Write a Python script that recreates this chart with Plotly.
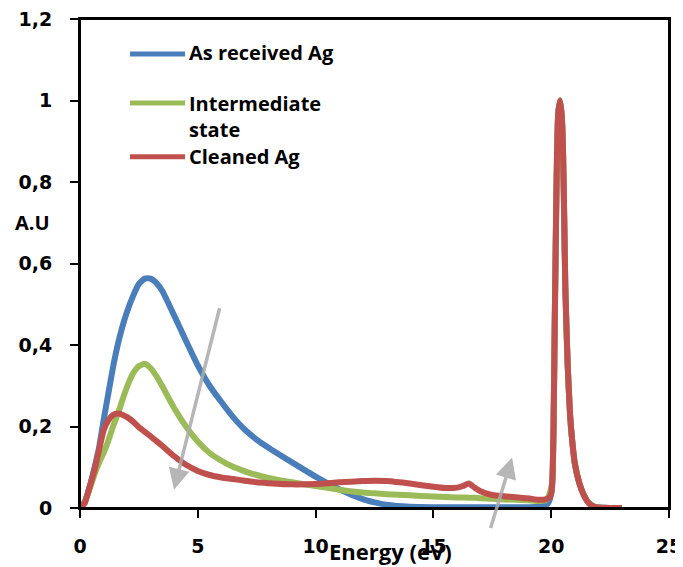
import plotly.graph_objects as go

energy = [0, 0.2, 0.4, 0.6, 0.8, 1.0, 1.2, 1.4, 1.6, 1.8,
          2.0, 2.25, 2.5, 2.75, 3.0, 3.25, 3.5,
          4.0, 4.5, 5.0, 5.5, 6.0, 6.5, 7.0, 7.5, 8.0,
          9.0, 10.0, 11.0, 12.0, 12.5, 13.0, 14.0, 15.0, 15.5, 16.0,
          16.25, 16.5, 16.75, 17.0, 17.5, 18.0, 19.0, 19.5, 19.8, 19.9,
          20.0, 20.05, 20.1, 20.15, 20.2, 20.25, 20.3, 20.38, 20.45, 20.5,
          20.55, 20.6, 20.7, 20.8, 20.9, 21.0, 21.2, 21.4, 21.6, 21.8,
          22.0, 22.5, 23.0]

as_received = [0, 0.015, 0.05, 0.095, 0.145, 0.215, 0.28, 0.345, 0.40, 0.445,
               0.482, 0.52, 0.55, 0.563, 0.563, 0.552, 0.532,
               0.472, 0.41, 0.35, 0.30, 0.26, 0.223, 0.192, 0.168, 0.148,
               0.112, 0.077, 0.046, 0.022, 0.014, 0.008, 0.003, 0.002, 0.002, 0.002,
               0.002, 0.002, 0.002, 0.002, 0.002, 0.002, 0.002, 0.003, 0.008, 0.015,
               0.035, 0.06, 0.2, 0.45, 0.68, 0.88, 0.97, 1.0, 0.96, 0.88,
               0.72, 0.54, 0.35, 0.23, 0.16, 0.11, 0.06, 0.03, 0.012, 0.004,
               0.001, 0, 0]

intermediate = [0, 0.015, 0.045, 0.08, 0.11, 0.135, 0.165, 0.2, 0.23, 0.265,
                0.298, 0.33, 0.348, 0.354, 0.343, 0.323, 0.298,
                0.245, 0.2, 0.163, 0.135, 0.116, 0.101, 0.09, 0.081, 0.074,
                0.063, 0.054, 0.045, 0.038, 0.036, 0.034, 0.031, 0.028, 0.027, 0.026,
                0.026, 0.025, 0.025, 0.024, 0.023, 0.021, 0.019, 0.017, 0.02, 0.03,
                0.05, 0.07, 0.2, 0.45, 0.68, 0.88, 0.97, 1.0, 0.96, 0.88,
                0.72, 0.54, 0.35, 0.23, 0.16, 0.11, 0.06, 0.03, 0.012, 0.004,
                0.001, 0, 0]

cleaned = [0, 0.012, 0.05, 0.09, 0.14, 0.19, 0.215, 0.228, 0.232, 0.229,
           0.223, 0.212, 0.198, 0.187, 0.176, 0.164, 0.152,
           0.127, 0.106, 0.091, 0.081, 0.075, 0.071, 0.067, 0.063, 0.061,
           0.058, 0.059, 0.063, 0.066, 0.067, 0.066, 0.06, 0.052, 0.049, 0.05,
           0.054, 0.06, 0.05, 0.041, 0.032, 0.029, 0.024, 0.02, 0.022, 0.025,
           0.035, 0.07, 0.2, 0.45, 0.68, 0.88, 0.97, 1.0, 0.96, 0.88,
           0.72, 0.54, 0.35, 0.23, 0.16, 0.11, 0.06, 0.03, 0.012, 0.004,
           0.001, 0, 0]

series_names = ["As received Ag", "Intermediate state", "Cleaned Ag"]
series_colors = ["#4A7EBB", "#9BBB59", "#C0504D"]
series_values = [as_received, intermediate, cleaned]

x_tickvals = [0, 5, 10, 15, 20, 25]
x_ticktext = ["0", "5", "10", "15", "20", "25"]
y_tickvals = [0, 0.2, 0.4, 0.6, 0.8, 1.0, 1.2]
y_ticktext = ["0", "0,2", "0,4", "0,6", "0,8", "1", "1,2"]

TICK_FONT = "DejaVu Sans"
TEXT_FONT = "Open Sans"

fig = go.Figure()
for name, color, vals in zip(series_names, series_colors, series_values):
    fig.add_trace(go.Scatter(
        x=energy, y=vals, mode="lines", name=name,
        line=dict(color=color, width=6, shape="spline", smoothing=0.5),
        showlegend=False, cliponaxis=True,
    ))

# page body has an 8px offset; plot area targeted at x 80..669, y 19..508.5 (window px)
PW, PH = 589.0, 489.5
def py2paper(py):
    return (508.5 - py) / PH
def px2paper(px):
    return (px - 80) / PW

# frame
fig.add_shape(type="rect", xref="paper", yref="paper", x0=0, x1=1, y0=0, y1=1,
              line=dict(color="black", width=2), layer="above")

leg_y_px = [54, 103, 157]
for color, ypx in zip(series_colors, leg_y_px):
    yp = py2paper(ypx)
    fig.add_shape(type="line", xref="paper", yref="paper",
                  x0=px2paper(130), x1=px2paper(185), y0=yp, y1=yp,
                  line=dict(color=color, width=5))

legend_texts = [("As received Ag", 53), ("Intermediate", 104), ("state", 130), ("Cleaned Ag", 157)]
for txt, ypx in legend_texts:
    fig.add_annotation(text=txt, xref="paper", yref="paper",
                       x=px2paper(187), y=py2paper(ypx),
                       xanchor="left", yanchor="middle", showarrow=False,
                       font=dict(family=TEXT_FONT, size=20, color="black", weight="bold"))

# axis titles
fig.add_annotation(text="A.U", xref="paper", yref="paper",
                   x=px2paper(32), y=py2paper(223), xanchor="center", yanchor="middle",
                   showarrow=False,
                   font=dict(family=TEXT_FONT, size=20, color="black", weight="bold"))
fig.add_annotation(text="Energy (eV)", xref="paper", yref="paper",
                   x=px2paper(390), y=py2paper(552), xanchor="center", yanchor="middle",
                   showarrow=False,
                   font=dict(family=TEXT_FONT, size=22, color="black", weight="bold"))

# gray arrows
arrow_color = "rgba(170,170,170,0.85)"
fig.add_annotation(x=3.99, y=0.045, ax=5.94, ay=0.494, xref="x", yref="y",
                   axref="x", ayref="y", text="", showarrow=True,
                   arrowhead=2, arrowsize=1.2, arrowwidth=3.5, arrowcolor=arrow_color)
fig.add_annotation(x=18.34, y=0.124, ax=17.41, ay=-0.053, xref="x", yref="y",
                   axref="x", ayref="y", text="", showarrow=True,
                   arrowhead=2, arrowsize=1.2, arrowwidth=3.5, arrowcolor=arrow_color)

axis_common = dict(showgrid=False, zeroline=False, showline=True, linecolor="black",
                   linewidth=2, mirror=True, ticks="outside", ticklen=8, tickwidth=2,
                   tickcolor="black", automargin=False, ticklabeloverflow="allow",
                   tickfont=dict(family=TICK_FONT, size=19, color="black", weight="bold"))

fig.update_layout(
    width=683, height=567,
    margin=dict(l=72, r=22, t=11, b=66.5),
    paper_bgcolor="white", plot_bgcolor="white",
    font=dict(family=TEXT_FONT, color="black"),
    xaxis=dict(range=[0, 25], tickvals=x_tickvals, ticktext=x_ticktext,
               ticklabelstandoff=12, **axis_common),
    yaxis=dict(range=[0, 1.2], tickvals=y_tickvals, ticktext=y_ticktext,
               ticklabelstandoff=14, **axis_common),
)

fig.write_html("out.html")
